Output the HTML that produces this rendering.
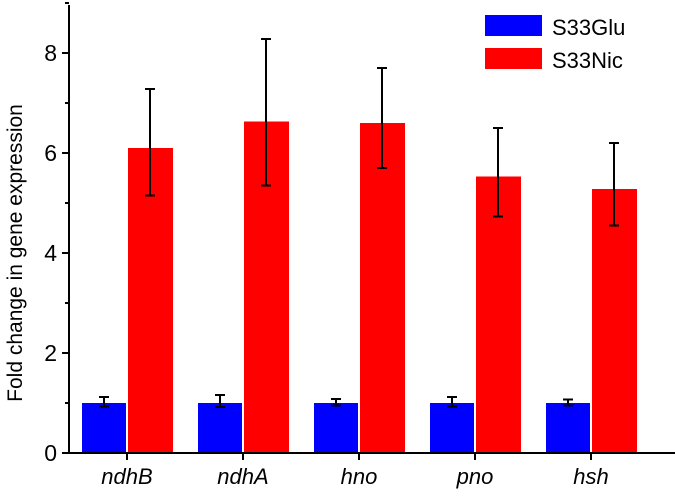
<!DOCTYPE html>
<html><head><meta charset="utf-8"><style>
html,body{margin:0;padding:0;background:#fff;}
svg text{font-family:"Liberation Sans",Arial,sans-serif;fill:#000;}
</style></head><body>
<svg id="chart" width="675" height="497" xmlns="http://www.w3.org/2000/svg">
<g id="plot"></g>
<text transform="translate(22,253) rotate(-90)" text-anchor="middle" font-size="21">Fold change in gene expression</text>
<g>
<rect x="485" y="15" width="57" height="21" fill="#0000ff"/>
<text x="552" y="35" font-size="22">S33Glu</text>
<rect x="485" y="48" width="57" height="21" fill="#ff0000"/>
<text x="552" y="68" font-size="22">S33Nic</text>
</g>
</svg>
<script>
const categories = ["ndhB","ndhA","hno","pno","hsh"];
const gluValues = [1.0,1.0,1.0,1.0,1.0];
const gluLow = [0.93,0.92,0.95,0.93,0.95];
const gluHigh = [1.12,1.16,1.08,1.12,1.07];
const nicValues = [6.1,6.63,6.6,5.53,5.28];
const nicLow = [5.15,5.35,5.7,4.73,4.55];
const nicHigh = [7.28,8.28,7.7,6.5,6.2];
const yTicks = [0,2,4,6,8];

const NS="http://www.w3.org/2000/svg";
const g=document.getElementById('plot');
const x0=69, y0=453, yTop=5;
function yS(v){return y0 - v*50;}
function xC(i){return 127 + i*116;}
function mk(tag,attrs){const e=document.createElementNS(NS,tag);for(const k in attrs)e.setAttribute(k,attrs[k]);g.appendChild(e);return e;}
function err(x,lo,hi,name){
  const e=mk('path',{d:`M${x},${yS(lo)}V${yS(hi)}M${x-5},${yS(lo)}H${x+5}M${x-5},${yS(hi)}H${x+5}`,stroke:'#000','stroke-width':2,fill:'none'});
  
  
}
categories.forEach((c,i)=>{
  const cx=xC(i);
  const b=mk('rect',{x:cx-45,y:yS(gluValues[i]),width:44,height:y0-yS(gluValues[i]),fill:'#0000ff'});
  
  
  const r=mk('rect',{x:cx+1,y:yS(nicValues[i]),width:45,height:y0-yS(nicValues[i]),fill:'#ff0000'});
  
  
  err(cx-23,gluLow[i],gluHigh[i],'error-bar-s33glu-'+c);
  err(cx+23,nicLow[i],nicHigh[i],'error-bar-s33nic-'+c);
  const t=mk('line',{x1:cx,y1:y0,x2:cx,y2:y0+7,stroke:'#000','stroke-width':2});
  
  
  const l=mk('text',{x:cx,y:484,'text-anchor':'middle','font-size':22,'font-style':'italic'});
  l.textContent=c;
  
  
});
yTicks.forEach(v=>{
  const t=mk('line',{x1:x0-7,y1:yS(v),x2:x0,y2:yS(v),stroke:'#000','stroke-width':2});
  
  
  const m=mk('line',{x1:x0-4,y1:yS(v+1),x2:x0,y2:yS(v+1),stroke:'#000','stroke-width':2});
  
  
  const l=mk('text',{x:x0-12,y:yS(v)+8,'text-anchor':'end','font-size':23});
  l.textContent=v;
  
  
});
const ya=mk('line',{x1:x0,y1:yTop,x2:x0,y2:y0+1,stroke:'#000','stroke-width':2});


const xa=mk('line',{x1:x0-1,y1:y0,x2:675,y2:y0,stroke:'#000','stroke-width':2});


</script>
</body></html>
